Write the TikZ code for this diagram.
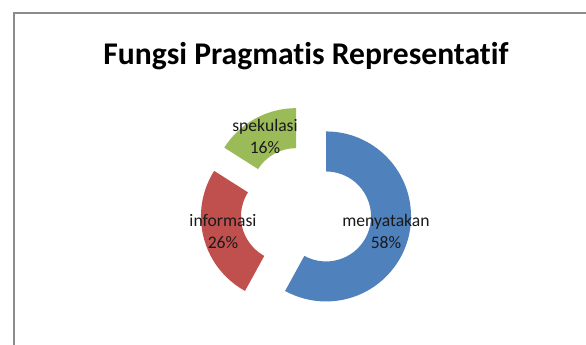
\documentclass[tikz,border=0pt]{standalone}
\usepackage{fontspec}
\setmainfont[Ligatures=NoCommon]{Carlito}
\definecolor{segblue}{HTML}{4F81BD}
\definecolor{segred}{HTML}{C0504D}
\definecolor{seggreen}{HTML}{9BBB59}
\definecolor{framegray}{HTML}{8C8C8C}
\definecolor{labeltext}{HTML}{1A1A1A}
\begin{document}
\begin{tikzpicture}[x=1pt,y=1pt,
  seglabel/.style={align=center,inner sep=0pt,anchor=base,text=labeltext,
    font=\fontsize{17.6}{22}\selectfont},
  titlestyle/.style={inner sep=0pt,anchor=base,font=\bfseries\fontsize{31.6}{36}\selectfont}]
\useasboundingbox (0,0) rectangle (586,345);
\fill[white] (0,0) rectangle (586,345);
\draw[framegray,line width=1.2pt] (14,0) -- (14,332) -- (586,332);
\node[titlestyle] (title) at (306,280.7) {Fungsi Pragmatis Representatif};
% doughnut, centre (306,133.7), explosion 20.7, R=85, r=45
\begin{scope}[shift={(306,133.7)}]
  \begin{scope}[shift={(-14.4:20.7pt)}]
    \fill[segblue] (90:85pt) arc[start angle=90,end angle=-118.8,radius=85pt]
      -- (-118.8:45pt) arc[start angle=-118.8,end angle=90,radius=45pt] -- cycle;
  \end{scope}
  \begin{scope}[shift={(-165.6:20.7pt)}]
    \fill[segred] (-118.8:85pt) arc[start angle=-118.8,end angle=-212.4,radius=85pt]
      -- (-212.4:45pt) arc[start angle=-212.4,end angle=-118.8,radius=45pt] -- cycle;
  \end{scope}
  \begin{scope}[shift={(118.8:20.7pt)}]
    \fill[seggreen] (147.6:85pt) arc[start angle=147.6,end angle=90,radius=85pt]
      -- (90:45pt) arc[start angle=90,end angle=147.6,radius=45pt] -- cycle;
  \end{scope}
\end{scope}
\node[seglabel] (lblS) at (265,191.7) {spekulasi\\16\%};
\node[seglabel] (lblI) at (223,96) {informasi\\26\%};
\node[seglabel] (lblM) at (386,96) {menyatakan\\58\%};
\end{tikzpicture}
\end{document}
